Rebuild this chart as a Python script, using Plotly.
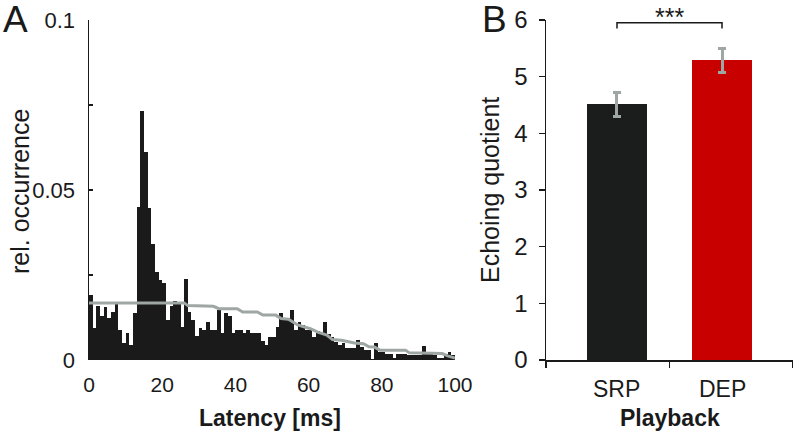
import plotly.graph_objects as go

# ---------------- Panel A data ----------------
bin_start_ms = list(range(100))
rel_occurrence = [
    0.0190, 0.0095, 0.0160, 0.0130, 0.0155, 0.0123, 0.0140, 0.0170, 0.0088, 0.0050,
    0.0080, 0.0044, 0.0137, 0.0450, 0.0733, 0.0612, 0.0448, 0.0340, 0.0260, 0.0234,
    0.0226, 0.0117, 0.0160, 0.0173, 0.0170, 0.0097, 0.0239, 0.0141, 0.0117, 0.0070,
    0.0093, 0.0088, 0.0112, 0.0088, 0.0088, 0.0146, 0.0078, 0.0138, 0.0129, 0.0078,
    0.0088, 0.0088, 0.0078, 0.0088, 0.0078, 0.0078, 0.0078, 0.0055, 0.0044, 0.0068,
    0.0068, 0.0096, 0.0138, 0.0125, 0.0125, 0.0146, 0.0088, 0.0112, 0.0102, 0.0088,
    0.0088, 0.0068, 0.0086, 0.0078, 0.0112, 0.0077, 0.0068, 0.0052, 0.0044, 0.0051,
    0.0034, 0.0034, 0.0034, 0.0060, 0.0039, 0.0029, 0.0029, 0.0003, 0.0051, 0.0024,
    0.0024, 0.0019, 0.0019, 0.0005, 0.0019, 0.0019, 0.0019, 0.0015, 0.0015, 0.0015,
    0.0015, 0.0041, 0.0019, 0.0019, 0.0015, 0.0005, 0.0005, 0.0019, 0.0024, 0.0015,
]
bin_width_ms = 1

ref_x = [0, 26, 27, 34, 35.5, 40.5, 42, 46, 47.5, 51, 52.5, 54.5, 57, 60.5, 62.5, 65,
         66.5, 69, 72.5, 75, 76.5, 78, 79.5, 86.5, 87.5, 93, 96.5, 98, 100]
ref_y = [0.0168, 0.0168, 0.0160, 0.0158, 0.0151, 0.0151, 0.0141, 0.0141, 0.0132, 0.0132,
         0.0122, 0.0120, 0.0103, 0.0092, 0.0082, 0.0073, 0.0060, 0.0058, 0.0050, 0.0048,
         0.0039, 0.0038, 0.0029, 0.0029, 0.0021, 0.0021, 0.0019, 0.0012, 0.0006]

a_xticks = [0, 20, 40, 60, 80, 100]
a_yticks = [0, 0.025, 0.05, 0.075, 0.1]
a_yticklabels = ["0", "", "0.05", "", "0.1"]

# ---------------- Panel B data ----------------
playback = ["SRP", "DEP"]
echo_quotient = [4.51, 5.29]
echo_err = [0.21, 0.21]
bar_colors = ["#1b1d1c", "#c80000"]
b_yticks = [0, 1, 2, 3, 4, 5, 6]

FONT = "Liberation Sans, Arial, Helvetica, sans-serif"
GREY = "#9ea7a4"
W, H = 793, 432

fig = go.Figure()

fig.add_trace(go.Bar(
    x=[b + bin_width_ms / 2 for b in bin_start_ms], y=rel_occurrence, width=bin_width_ms,
    marker=dict(color="#1a1a1a", line=dict(width=0)),
    xaxis="x", yaxis="y", showlegend=False,
))
fig.add_trace(go.Scatter(
    x=ref_x, y=ref_y, mode="lines", line=dict(color=GREY, width=3),
    xaxis="x", yaxis="y", showlegend=False,
))

b_pos = list(range(len(playback)))
fig.add_trace(go.Bar(
    x=b_pos, y=echo_quotient, width=0.58,
    marker=dict(color=bar_colors, line=dict(width=0)),
    error_y=dict(type="data", array=echo_err, color=GREY, thickness=3, width=4),
    xaxis="x2", yaxis="y2", showlegend=False,
))

ydom = [(H - 360) / H, (H - 20) / H]

fig.update_layout(
    width=W, height=H,
    margin=dict(l=0, r=0, t=0, b=0, pad=0, autoexpand=False),
    paper_bgcolor="white", plot_bgcolor="white",
    font=dict(family=FONT, color="#1a1a1a", size=21),
    bargap=0,
    xaxis=dict(domain=[89 / W, 455 / W], range=[0, 100], tickvals=a_xticks,
               ticks="", showline=False, showgrid=False, zeroline=False, automargin=False,
               tickfont=dict(size=21), ticklabelstandoff=10),
    yaxis=dict(domain=ydom, range=[0, 0.1], tickvals=a_yticks, ticktext=a_yticklabels,
               ticks="inside", ticklen=4, tickcolor="#1a1a1a", tickwidth=1.5,
               showline=True, linecolor="#1a1a1a", linewidth=1.5, automargin=False,
               showgrid=False, zeroline=False, tickfont=dict(size=22), ticklabelstandoff=8),
    xaxis2=dict(domain=[546 / W, 1.0], range=[-0.676, 1.676],
                tickvals=[-0.676, 0.5, 1.676], ticktext=["", "", ""],
                ticks="outside", ticklen=6, tickcolor="#1a1a1a", tickwidth=1.5,
                showline=True, linecolor="#1a1a1a", linewidth=1.5, automargin=False,
                showgrid=False, zeroline=False),
    yaxis2=dict(domain=ydom, range=[0, 6], tickvals=b_yticks, anchor="x2",
                ticks="outside", ticklen=6, tickcolor="#1a1a1a", tickwidth=1.5,
                showline=True, linecolor="#1a1a1a", linewidth=1.5, automargin=False,
                showgrid=False, zeroline=False, tickfont=dict(size=24), ticklabelstandoff=6),
)

def px(x, y):
    return x / W, (H - y) / H

annos = []
def add(text, x, y, size, bold=False, angle=0, xanchor="center", yanchor="middle"):
    ax, ay = px(x, y)
    annos.append(dict(text=f"<b>{text}</b>" if bold else text, x=ax, y=ay,
                      xref="paper", yref="paper", showarrow=False, textangle=angle,
                      xanchor=xanchor, yanchor=yanchor,
                      font=dict(family=FONT, size=size, color="#1a1a1a")))

add("A", 15, 20, 37)
add("B", 494, 20, 37)
add("rel. occurrence", 20, 192, 25, angle=-90)
add("Latency [ms]", 270, 418, 23, bold=True)
add("Echoing quotient", 490, 190, 25, angle=-90)
add("Playback", 670, 418, 23, bold=True)
for i, lab in enumerate(playback):
    annos.append(dict(text=lab, x=b_pos[i], y=0, xref="x2", yref="y2", showarrow=False,
                      yanchor="top", yshift=-14, font=dict(family=FONT, size=23, color="#1a1a1a")))
annos.append(dict(text="***", x=0.5, y=5.95, xref="x2", yref="y2", showarrow=False,
                  yanchor="bottom", yshift=-10, font=dict(family=FONT, size=25, color="#1a1a1a")))
fig.update_layout(annotations=annos)

# significance bracket
fig.add_shape(type="path", xref="x2", yref="y2",
              path=f"M {b_pos[0]},5.85 L {b_pos[0]},5.95 L {b_pos[1]},5.95 L {b_pos[1]},5.85",
              line=dict(color="#1a1a1a", width=1.5))

fig.write_html("out.html", config={"displayModeBar": False, "staticPlot": True},
               post_script="document.body.style.margin='0';document.body.style.overflow='hidden';")
